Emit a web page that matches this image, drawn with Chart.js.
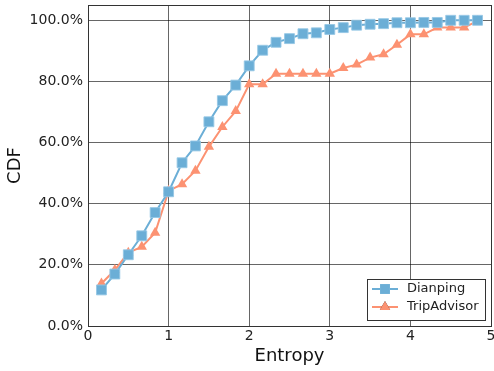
<!DOCTYPE html>
<html>
<head>
<meta charset="utf-8">
<script src="https://cdn.jsdelivr.net/npm/chart.js@4/dist/chart.umd.min.js"></script>
<style>
  body { margin: 0; background: #fff; }
</style>
</head>
<body>
<canvas id="cdfChart" width="494" height="371"></canvas>
<script>
// entropy bins (x) and cdf values for each site
const entropy = [0.167, 0.333, 0.5, 0.667, 0.833, 1.0, 1.167, 1.333, 1.5, 1.667, 1.833, 2.0, 2.167, 2.333, 2.5,
  2.667, 2.833, 3.0, 3.167, 3.333, 3.5, 3.667, 3.833, 4.0, 4.167, 4.333, 4.5, 4.667, 4.833];
const dianping = [0.118, 0.170, 0.233, 0.295, 0.371, 0.439, 0.534, 0.589, 0.668, 0.737, 0.788, 0.851, 0.902, 0.928, 0.940,
  0.956, 0.959, 0.970, 0.976, 0.984, 0.987, 0.989, 0.992, 0.992, 0.993, 0.993, 1.0, 1.0, 1.0];
const tripAdvisor = [0.139, 0.183, 0.240, 0.259, 0.305, 0.442, 0.464, 0.508, 0.586, 0.651, 0.703, 0.791, 0.791, 0.825, 0.825,
  0.825, 0.825, 0.825, 0.844, 0.855, 0.878, 0.889, 0.920, 0.954, 0.954, 0.976, 0.976, 0.976, 0.998];
const xTicks = [0, 1, 2, 3, 4, 5];
const yTicks = [0, 0.2, 0.4, 0.6, 0.8, 1.0];

const blue = '#6baed6';
const salmon = '#fc9272';
const font = 'DejaVu Sans';

function toPoints(ys) {
  return entropy.map((x, i) => ({ x: x, y: ys[i] }));
}

// box round the plot + legend in the lower right corner
const frameAndLegend = {
  id: 'frameAndLegend',
  afterDraw(chart) {
    let c = chart.ctx;
    let a = chart.chartArea;
    c.save();
    c.strokeStyle = '#333';
    c.lineWidth = 1;
    c.strokeRect(Math.round(a.left) + 0.5, Math.round(a.top) + 0.5, Math.round(a.right - a.left), Math.round(a.bottom - a.top));

    let bx = Math.round(a.right) - 124, by = Math.round(a.bottom) - 47, bw = 118, bh = 41;
    c.fillStyle = '#fff';
    c.fillRect(bx, by, bw, bh);
    c.strokeRect(bx + 0.5, by + 0.5, bw, bh);
    c.font = '13px "' + font + '"';
    c.textBaseline = 'middle';
    chart.data.datasets.forEach((ds, i) => {
      let yy = by + 10 + i * 18;
      c.strokeStyle = ds.borderColor;
      c.lineWidth = 2;
      c.beginPath();
      c.moveTo(bx + 5, yy);
      c.lineTo(bx + 31, yy);
      c.stroke();
      Chart.helpers.drawPoint(c, { pointStyle: ds.pointStyle, radius: ds.pointRadius, borderWidth: 0 }, bx + 18, yy);
      c.fillStyle = ds.backgroundColor;
      c.fill();
      c.fillStyle = '#222';
      c.fillText(ds.label, bx + 40, yy);
      c.strokeStyle = '#333';
      c.lineWidth = 1;
    });
    c.restore();
  }
};

let ctx = document.getElementById('cdfChart');
let cdfChart = new Chart(ctx, {
  type: 'line',
  data: {
    datasets: [{
      label: 'Dianping',
      data: toPoints(dianping),
      borderColor: blue,
      backgroundColor: blue,
      pointBorderColor: 'rgba(150,200,230,0.9)',
      pointBorderWidth: 1,
      borderWidth: 2,
      pointStyle: 'rect',
      pointRadius: 7,
      tension: 0
    }, {
      label: 'TripAdvisor',
      data: toPoints(tripAdvisor),
      borderColor: salmon,
      backgroundColor: salmon,
      pointBorderColor: salmon,
      pointBorderWidth: 0,
      borderWidth: 2,
      pointStyle: 'triangle',
      pointRadius: 6,
      tension: 0
    }]
  },
  options: {
    responsive: false,
    animation: false,
    layout: { autoPadding: false, padding: { top: 5, right: 3, left: 0, bottom: 0 } },
    plugins: {
      legend: { display: false },
      tooltip: { enabled: false }
    },
    scales: {
      x: {
        type: 'linear',
        min: 0,
        max: 5,
        afterFit(scale) {
          scale.height = 45;
          scale.paddingLeft = 0;
          scale.paddingRight = 0;
        },
        afterBuildTicks(scale) { scale.ticks = xTicks.map(v => ({ value: v })); },
        ticks: {
          color: '#222',
          font: { family: font, size: 14 },
          padding: 2,
          callback: v => String(v)
        },
        grid: { color: 'rgba(0,0,0,0.6)', drawTicks: false },
        border: { color: '#333' },
        title: {
          display: true,
          text: 'Entropy',
          color: '#111',
          font: { family: font, size: 18 },
          padding: { top: 1 }
        }
      },
      y: {
        min: 0,
        max: 1.05,
        afterFit(scale) {
          scale.width = 88;
          scale.paddingTop = 0;
          scale.paddingBottom = 0;
        },
        afterBuildTicks(scale) { scale.ticks = yTicks.map(v => ({ value: v })); },
        ticks: {
          color: '#222',
          font: { family: font, size: 14 },
          padding: 5,
          callback: v => (v * 100).toFixed(1) + '%'
        },
        grid: { color: 'rgba(0,0,0,0.6)', drawTicks: false },
        border: { color: '#333' },
        title: {
          display: true,
          text: 'CDF',
          color: '#111',
          font: { family: font, size: 18 },
          padding: { top: 5, bottom: 0 }
        }
      }
    }
  },
  plugins: [frameAndLegend]
});
</script>
</body>
</html>
